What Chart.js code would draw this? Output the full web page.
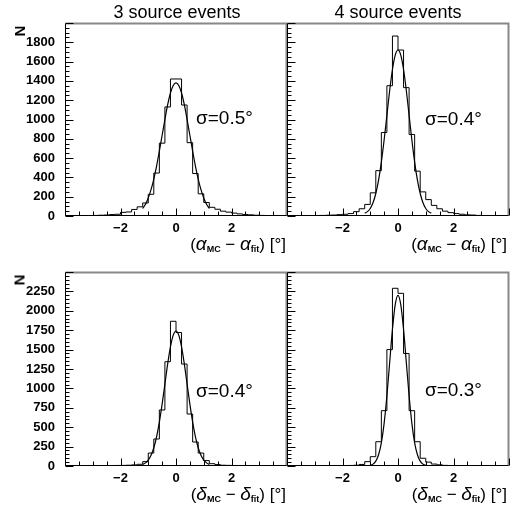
<!DOCTYPE html>
<html>
<head>
<meta charset="utf-8">
<script src="https://cdn.jsdelivr.net/npm/chart.js@4.4.0/dist/chart.umd.min.js"></script>
<style>
  html, body { margin: 0; padding: 0; background: #fff; }
  #wrap { position: relative; width: 517px; height: 508px; font-family: "Liberation Sans", Arial, sans-serif; color: #000; }
  #wrap canvas { position: absolute; left: 0; top: 0; }
  .txt { position: absolute; white-space: nowrap; line-height: 1; }
  .title { font-size: 18px; transform: translateX(-50%); }
  .sigma { font-size: 19px; }
  .xlab { font-size: 17px; transform: translateX(-100%); }
  .xlab i { font-size: 19px; }
  .xlab sub { font-size: 9px; font-weight: bold; vertical-align: -2px; }
  .ylab { font-size: 15px; font-weight: bold; transform: translate(-50%, -50%) rotate(-90deg); }
</style>
</head>
<body>
<div id="wrap">
  <canvas id="c-tl" width="517" height="508"></canvas>
  <canvas id="c-tr" width="517" height="508"></canvas>
  <canvas id="c-bl" width="517" height="508"></canvas>
  <canvas id="c-br" width="517" height="508"></canvas>

  <div class="txt title" style="left:177px; top:3px;">3 source events</div>
  <div class="txt title" style="left:398px; top:3px;">4 source events</div>

  <div class="txt ylab" style="left:19px; top:31px;">N</div>
  <div class="txt ylab" style="left:19px; top:280px;">N</div>

  <div class="txt sigma" style="left:196px; top:108px;">σ=0.5°</div>
  <div class="txt sigma" style="left:425px; top:109px;">σ=0.4°</div>
  <div class="txt sigma" style="left:196px; top:381px;">σ=0.4°</div>
  <div class="txt sigma" style="left:425px; top:380px;">σ=0.3°</div>

  <div class="txt xlab" style="left:286px; top:234px;">(<i>α</i><sub>MC</sub> − <i>α</i><sub>fit</sub>) [°]</div>
  <div class="txt xlab" style="left:507px; top:234px;">(<i>α</i><sub>MC</sub> − <i>α</i><sub>fit</sub>) [°]</div>
  <div class="txt xlab" style="left:286px; top:484px;">(<i>δ</i><sub>MC</sub> − <i>δ</i><sub>fit</sub>) [°]</div>
  <div class="txt xlab" style="left:507px; top:484px;">(<i>δ</i><sub>MC</sub> − <i>δ</i><sub>fit</sub>) [°]</div>
</div>

<script>
// bin edges of the histograms (width 0.2)
const binEdges = [-4.0, -3.8, -3.6, -3.4, -3.2, -3.0, -2.8, -2.6, -2.4, -2.2,
                  -2.0, -1.8, -1.6, -1.4, -1.2, -1.0, -0.8, -0.6, -0.4, -0.2,
                   0.0,  0.2,  0.4,  0.6,  0.8,  1.0,  1.2,  1.4,  1.6,  1.8,
                   2.0,  2.2,  2.4,  2.6,  2.8,  3.0,  3.2,  3.4,  3.6,  3.8, 4.0];

// counts per bin
const alpha3 = [0, 2, 3, 3, 5, 6, 8, 10, 15, 18,
                38, 42, 68, 95, 135, 225, 445, 755, 1130, 1420,
                1420, 1150, 760, 440, 230, 140, 90, 70, 50, 40,
                30, 22, 15, 12, 8, 6, 4, 3, 2, 1];
const alpha4 = [0, 0, 1, 2, 3, 4, 6, 8, 10, 14,
                18, 25, 45, 75, 120, 240, 470, 865, 1350, 1865,
                1720, 1330, 845, 465, 250, 170, 110, 75, 50, 35,
                25, 18, 12, 10, 6, 4, 3, 2, 1, 0];
const delta3 = [0, 0, 0, 0, 1, 2, 3, 4, 5, 7,
                8, 10, 14, 22, 56, 167, 348, 722, 1344, 1865,
                1720, 1314, 670, 309, 167, 70, 30, 18, 10, 8,
                5, 4, 3, 2, 1, 1, 0, 0, 0, 0];
const delta4 = [0, 0, 0, 0, 0, 1, 1, 2, 3, 4,
                5, 7, 10, 20, 56, 120, 313, 713, 1500, 2290,
                2225, 1450, 713, 313, 100, 50, 25, 15, 8, 5,
                3, 2, 1, 1, 0, 0, 0, 0, 0, 0];

// gaussian fit curves
const fitX = [-1.2, -1.1, -1.0, -0.9, -0.8, -0.7, -0.6, -0.5, -0.4, -0.3, -0.2, -0.1, 0,
               0.1, 0.2, 0.3, 0.4, 0.5, 0.6, 0.7, 0.8, 0.9, 1.0, 1.1, 1.2];
const fitAlpha3 = [78, 122, 187, 273, 383, 518, 673, 837, 1000, 1153, 1275, 1353, 1380,
                   1353, 1275, 1153, 1000, 837, 673, 518, 383, 273, 187, 122, 78];
const fitAlpha4 = [30, 45, 78, 137, 233, 372, 559, 788, 1043, 1300, 1518, 1667, 1720,
                   1667, 1518, 1300, 1043, 788, 559, 372, 233, 137, 78, 45, 30];
const fitDelta3 = [19, 40, 76, 138, 235, 376, 566, 797, 1055, 1315, 1535, 1686, 1740,
                   1686, 1535, 1315, 1055, 797, 566, 376, 235, 138, 76, 40, 19];
const fitDelta4 = [1, 3, 9, 24, 63, 145, 298, 549, 905, 1334, 1760, 2080, 2200,
                   2080, 1760, 1334, 905, 549, 298, 145, 63, 24, 9, 3, 1];

const FONT = '"Liberation Sans", Arial, sans-serif';

/** Draws the frame and the inward ticks (PAW style) */
const frameTicks = {
  id: 'frameTicks',
  afterDatasetsDraw(chart, args, opts) {
    const { ctx, chartArea: a, scales: { x, y } } = chart;
    const L = Math.round(a.left) + 0.5, R = Math.round(a.right) - 0.5;
    const T = Math.round(a.top) + 0.5, B = Math.round(a.bottom) - 0.5;
    ctx.save();
    // top and right frame
    ctx.strokeStyle = '#888';
    ctx.lineWidth = 2;
    ctx.beginPath();
    ctx.moveTo(L, T); ctx.lineTo(R, T); ctx.lineTo(R, B);
    ctx.stroke();
    // axes
    ctx.strokeStyle = '#000';
    ctx.lineWidth = 1;
    ctx.beginPath();
    ctx.moveTo(L, T); ctx.lineTo(L, B); ctx.lineTo(R, B);
    // x ticks
    for (let v = x.min; v <= x.max + 1e-9; v += 0.5) {
      const px = Math.round(x.getPixelForValue(v)) + 0.5;
      const len = Math.abs(v % 2) < 1e-9 ? 7 : 4;
      ctx.moveTo(px, B); ctx.lineTo(px, B - len);
    }
    // y ticks
    for (let v = 0; v <= y.max + 1e-9; v += 50) {
      const py = Math.round(y.getPixelForValue(v)) + 0.5;
      const len = Math.abs(v % opts.yStep) < 1e-9 ? 8 : 4;
      ctx.moveTo(L, py); ctx.lineTo(L + len, py);
    }
    ctx.stroke();
    ctx.restore();
  }
};

function makePanel(id, counts, fit, yMax, yStep, showY, pad) {
  const hist = binEdges.map((x, i) => ({ x, y: counts[Math.min(i, counts.length - 1)] }));
  const curve = fitX.map((x, i) => ({ x, y: fit[i] }));
  return new Chart(document.getElementById(id), {
    type: 'line',
    data: {
      datasets: [
        { data: hist, stepped: 'before', borderColor: '#000', borderWidth: 1, pointRadius: 0, fill: false },
        { data: curve, cubicInterpolationMode: 'monotone', borderColor: '#000', borderWidth: 1.2, pointRadius: 0, fill: false }
      ]
    },
    options: {
      responsive: false,
      animation: false,
      layout: { padding: pad },
      plugins: { legend: { display: false }, tooltip: { enabled: false }, frameTicks: { yStep } },
      scales: {
        x: {
          type: 'linear', min: -4, max: 4,
          afterFit: s => { s.height = 30; },
          grid: { display: false, drawTicks: false },
          border: { display: false },
          ticks: {
            stepSize: 2, padding: 5, color: '#000', maxRotation: 0, autoSkip: false,
            font: { family: FONT, size: 13, weight: 'bold' },
            callback: v => (Math.abs(v) >= 4 ? '' : String(v).replace('-', '\u2212'))
          }
        },
        y: {
          type: 'linear', min: 0, max: yMax,
          afterFit: s => { s.width = showY ? 60 : 0; },
          grid: { display: false, drawTicks: false },
          border: { display: false },
          ticks: {
            display: showY, stepSize: yStep, padding: 10, color: '#000',
            font: { family: FONT, size: 13, weight: 'bold' },
            callback: v => (v >= yMax ? '' : String(v))
          }
        }
      }
    },
    plugins: [frameTicks]
  });
}

makePanel('c-tl', alpha3, fitAlpha3, 2000, 200, true,  { left: 5,   right: 230, top: 23,  bottom: 262 });
makePanel('c-tr', alpha4, fitAlpha4, 2000, 200, false, { left: 287, right: 8,   top: 23,  bottom: 262 });
makePanel('c-bl', delta3, fitDelta3, 2500, 250, true,  { left: 5,   right: 230, top: 272, bottom: 12 });
makePanel('c-br', delta4, fitDelta4, 2500, 250, false, { left: 287, right: 8,   top: 272, bottom: 12 });
</script>
</body>
</html>
